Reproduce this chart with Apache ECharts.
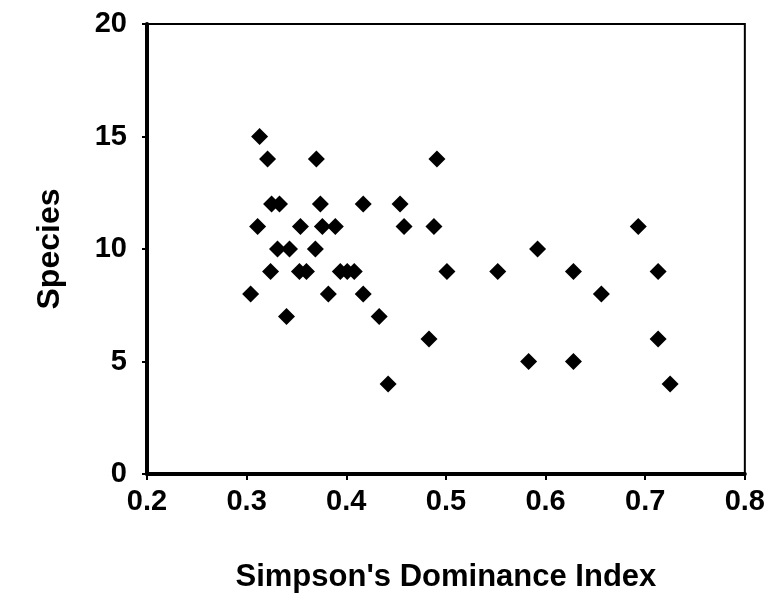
<!DOCTYPE html>
<html>
<head>
<meta charset="utf-8">
<style>
  html, body { margin: 0; padding: 0; background: #fff; }
  #chart { width: 768px; height: 598px; }
</style>
<script src="https://cdn.jsdelivr.net/npm/echarts@6/dist/echarts.min.js"></script>
</head>
<body>
<div id="chart"></div>
<script>
  // Simpson's dominance index vs species count
  const dominance = [
    0.313, 0.321, 0.370, 0.491,
    0.325, 0.333, 0.374, 0.417, 0.454,
    0.311, 0.354, 0.376, 0.389, 0.458, 0.488, 0.693,
    0.331, 0.343, 0.369, 0.592,
    0.324, 0.353, 0.360, 0.394, 0.401, 0.408, 0.501, 0.552, 0.628, 0.713,
    0.304, 0.382, 0.417, 0.656,
    0.340, 0.433,
    0.483, 0.713,
    0.583, 0.628,
    0.442, 0.725
  ];
  const species = [
    15, 14, 14, 14,
    12, 12, 12, 12, 12,
    11, 11, 11, 11, 11, 11, 11,
    10, 10, 10, 10,
    9, 9, 9, 9, 9, 9, 9, 9, 9, 9,
    8, 8, 8, 8,
    7, 7,
    6, 6,
    5, 5,
    4, 4
  ];

  const font = '"Liberation Sans", Arial, sans-serif';
  const points = dominance.map((d, i) => [d, species[i]]);

  const chart = echarts.init(document.getElementById('chart'));
  chart.setOption({
    animation: false,
    grid: {
      left: 147, right: 21, top: 24, bottom: 124,
      show: true, borderColor: '#000', borderWidth: 2
    },
    xAxis: {
      type: 'value',
      min: 0.2, max: 0.8, interval: 0.1,
      name: "Simpson's Dominance Index",
      nameLocation: 'middle',
      nameGap: 88,
      nameTextStyle: {fontFamily: font, fontWeight: 'bold', fontSize: 31, color: '#000'},
      axisLine: {onZero: false, lineStyle: {color: '#000', width: 4}},
      axisTick: {show: true, length: 6, lineStyle: {color: '#000', width: 2}},
      axisLabel: {
        margin: 13, fontFamily: font, fontWeight: 'bold', fontSize: 29, color: '#000',
        formatter: v => v.toFixed(1)
      },
      splitLine: {show: false}
    },
    yAxis: {
      type: 'value',
      min: 0, max: 20, interval: 5,
      name: 'Species',
      nameLocation: 'middle',
      nameGap: 81,
      nameRotate: 90,
      nameTextStyle: {fontFamily: font, fontWeight: 'bold', fontSize: 32, color: '#000'},
      axisLine: {onZero: false, lineStyle: {color: '#000', width: 4}},
      axisTick: {show: true, length: 5, lineStyle: {color: '#000', width: 2}},
      axisLabel: {margin: 20, fontFamily: font, fontWeight: 'bold', fontSize: 29, color: '#000'},
      splitLine: {show: false}
    },
    series: [{
      type: 'scatter',
      symbol: 'diamond',
      symbolSize: 17,
      itemStyle: {color: '#000', opacity: 1},
      data: points
    }]
  });
</script>
</body>
</html>
